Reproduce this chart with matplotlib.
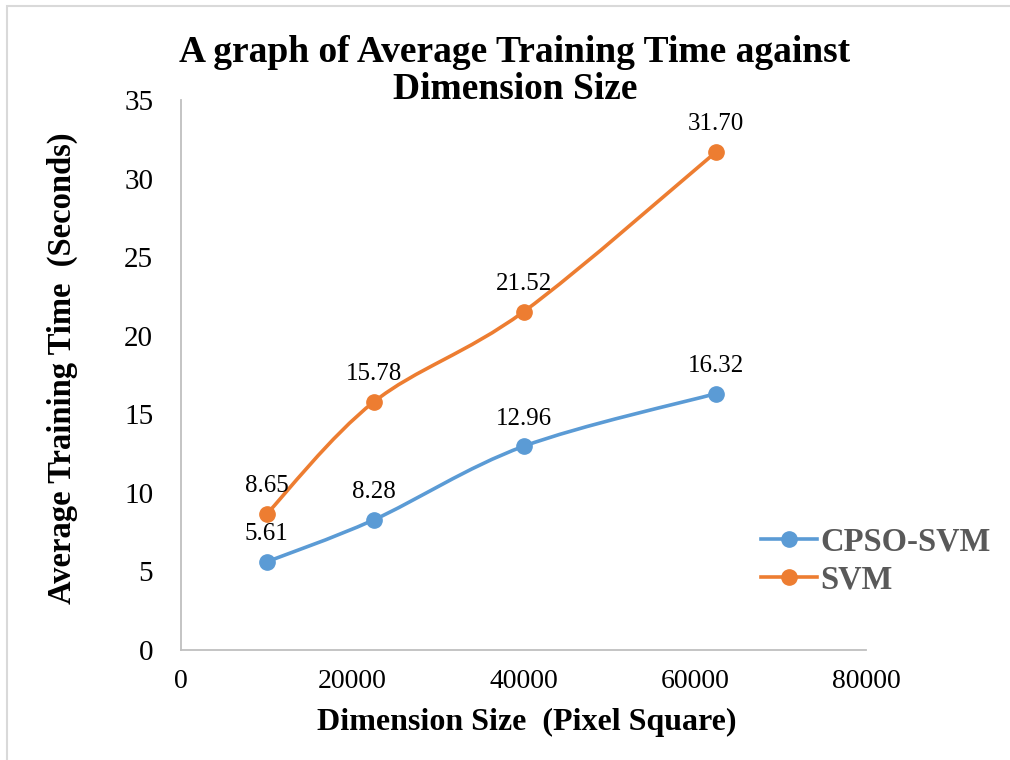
import matplotlib.pyplot as plt
from matplotlib.path import Path
from matplotlib.patches import PathPatch, Rectangle
from matplotlib.lines import Line2D
import numpy as np

plt.rcParams['font.family'] = ['Liberation Serif', 'DejaVu Serif']

# data
dimension = [10000, 22500, 40000, 62500]
cpso_svm = [5.61, 8.28, 12.96, 16.32]
svm = [8.65, 15.78, 21.52, 31.70]

BLUE = '#5B9BD5'
ORANGE = '#ED7D31'


def smooth_path(xs, ys):
    # Catmull-Rom style bezier smoothing (like Excel "smoothed line")
    pts = np.column_stack([xs, ys]).astype(float)
    n = len(pts)
    verts = [pts[0]]
    codes = [Path.MOVETO]
    for i in range(n - 1):
        p0 = pts[i - 1] if i > 0 else pts[i]
        p1 = pts[i]
        p2 = pts[i + 1]
        p3 = pts[i + 2] if i + 2 < n else pts[i + 1]
        c1 = p1 + (p2 - p0) / 6
        c2 = p2 - (p3 - p1) / 6
        verts += [c1, c2, p2]
        codes += [Path.CURVE4] * 3
    return Path(verts, codes)


fig = plt.figure(figsize=(10.1, 7.6), dpi=100)
ax = fig.add_axes([181 / 1010, 1 - 650 / 760, 685 / 1010, 550 / 760])

for ys, col in [(cpso_svm, BLUE), (svm, ORANGE)]:
    ax.add_patch(PathPatch(smooth_path(dimension, ys), facecolor='none',
                           edgecolor=col, lw=2.6, capstyle='round'))
    ax.plot(dimension, ys, 'o', color=col, ms=11, zorder=3)
    for x, y in zip(dimension, ys):
        ax.annotate(f'{y:.2f}', (x, y), xytext=(0, 12), textcoords='offset points',
                    ha='center', va='bottom', fontsize=18)

ax.set_xlim(0, 80000)
ax.set_ylim(0, 35)
ax.set_xticks([0, 20000, 40000, 60000, 80000])
ax.set_yticks(range(0, 36, 5))
ax.tick_params(axis='x', length=0, labelsize=20, pad=14)
ax.tick_params(axis='y', length=0, labelsize=21, pad=20)
for s in ['top', 'right']:
    ax.spines[s].set_visible(False)
for s in ['left', 'bottom']:
    ax.spines[s].set_color('#BFBFBF')
    ax.spines[s].set_linewidth(1.3)

fig.text(62 / 1010, 1 - 368 / 760, 'Average Training Time  (Seconds)', rotation=90,
         ha='center', va='center', fontsize=23.5, fontweight='bold')
fig.text(527 / 1010, 1 - 722 / 760, 'Dimension Size  (Pixel Square)',
         ha='center', va='center', fontsize=23, fontweight='bold')
fig.text(515 / 1010, 1 - 71 / 760, 'A graph of Average Training Time against\nDimension Size',
         ha='center', va='center', fontsize=27, fontweight='bold', linespacing=1.05)

handles = [Line2D([], [], color=BLUE, lw=2.6, marker='o', ms=11),
           Line2D([], [], color=ORANGE, lw=2.6, marker='o', ms=11)]
leg = fig.legend(handles, ['CPSO-SVM', 'SVM'], loc='center left',
                 bbox_to_anchor=(732 / 1010, 1 - 561 / 760), frameon=False,
                 handlelength=1.7, handletextpad=0.1, labelspacing=0.2,
                 prop={'size': 23.5, 'weight': 'bold'})
for t in leg.get_texts():
    t.set_color('#595959')

fig.add_artist(Rectangle((7 / 1010, -0.1), 1.1, 1.1 - 6 / 760,
                         transform=fig.transFigure, fill=False,
                         edgecolor='#D9D9D9', lw=1.5))

fig.savefig('out.png', dpi=100)
